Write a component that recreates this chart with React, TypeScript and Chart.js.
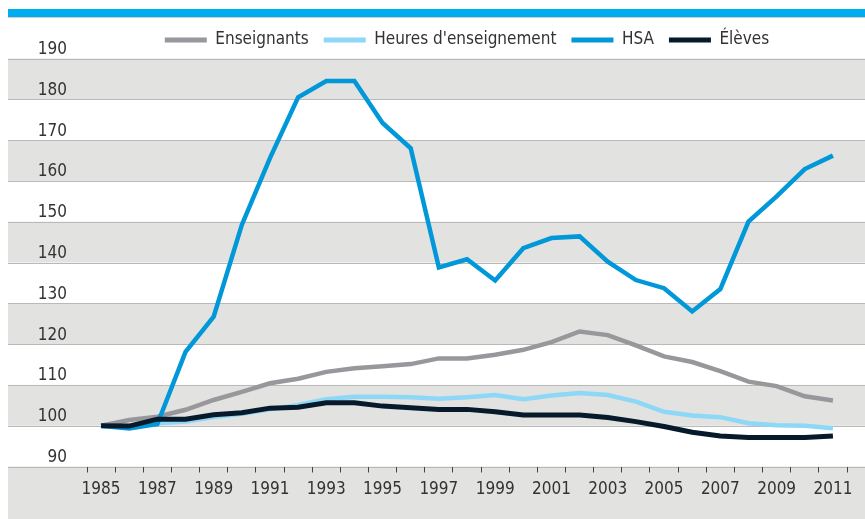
import React, { useEffect, useRef } from "react";
import { Chart, registerables } from "chart.js";

Chart.register(...registerables);

const years = ["1985","1986","1987","1988","1989","1990","1991","1992","1993","1994","1995","1996","1997","1998","1999","2000","2001","2002","2003","2004","2005","2006","2007","2008","2009","2010","2011"];

const enseignants = [100, 101.4, 102.2, 103.9, 106.3, 108.3, 110.4, 111.5, 113.2, 114.1, 114.6, 115.1, 116.5, 116.5, 117.4, 118.6, 120.5, 123.1, 122.2, 119.7, 117.0, 115.6, 113.4, 110.8, 109.7, 107.2, 106.2];
const heures = [100, 99.8, 100.6, 101.0, 102.1, 102.9, 104.0, 105.1, 106.5, 107.1, 107.1, 107.0, 106.6, 107.0, 107.5, 106.5, 107.4, 108.0, 107.5, 105.9, 103.4, 102.5, 102.1, 100.6, 100.1, 100.0, 99.4];
const hsa = [100, 99.3, 100.4, 118.1, 126.7, 149.2, 165.6, 180.5, 184.5, 184.5, 174.2, 168.0, 138.8, 140.8, 135.6, 143.5, 146.0, 146.4, 140.2, 135.7, 133.7, 128.0, 133.5, 150.0, 156.2, 162.9, 166.2];
const eleves = [100, 99.9, 101.6, 101.6, 102.7, 103.2, 104.3, 104.5, 105.6, 105.6, 104.8, 104.4, 104.0, 104.0, 103.4, 102.6, 102.6, 102.6, 102.0, 101.0, 99.8, 98.4, 97.5, 97.1, 97.1, 97.1, 97.5];

const yMin = 90;
const yMax = 190;
const yStep = 10;
const bandStarts = [180, 160, 140, 120, 100];

const FONT = "'Liberation Sans Narrow', 'DejaVu Sans Condensed', 'Roboto', sans-serif";
const FS = 17;

const backgroundPlugin = {
  id: "bgBands",
  beforeDraw(chart: any) {
    const { ctx, width, height } = chart;
    const y = chart.scales.y;
    const left = 8;
    ctx.save();
    ctx.fillStyle = "#00aeef";
    ctx.fillRect(left, 9, width - left, 8);
    ctx.fillStyle = "#d0d0d0";
    ctx.fillRect(left, 17, width - left, 1);
    ctx.fillStyle = "#e2e2e1";
    bandStarts.forEach((b) => {
      const t = y.getPixelForValue(b + yStep);
      const btm = y.getPixelForValue(b);
      ctx.fillRect(left, t, width - left, btm - t);
    });
    const base = y.getPixelForValue(yMin);
    ctx.fillRect(left, base, width - left, height - base);
    ctx.strokeStyle = "#b9b9b9";
    ctx.lineWidth = 1.2;
    for (let v = yMin; v <= yMax; v += yStep) {
      const py = Math.round(y.getPixelForValue(v)) + 0.5;
      ctx.beginPath();
      ctx.moveTo(left, py);
      ctx.lineTo(width, py);
      ctx.stroke();
    }
    ctx.restore();
  },
};

export default function App() {
  const ref = useRef<HTMLCanvasElement | null>(null);
  useEffect(() => {
    if (!ref.current) return;
    const mk = (label: string, data: number[], color: string, order: number, bw: number) => ({
      label,
      data,
      borderColor: color,
      backgroundColor: color,
      borderWidth: bw,
      pointRadius: 0,
      tension: 0,
      borderJoinStyle: "miter" as const,
      borderCapStyle: "butt" as const,
      order,
    });
    const chart = new Chart(ref.current, {
      type: "line",
      data: {
        labels: years,
        datasets: [
          mk("Enseignants", enseignants, "#98989c", 3, 4.5),
          mk("Heures d'enseignement", heures, "#8dd7f7", 2, 4.5),
          mk("HSA", hsa, "#0098d8", 1, 4.5),
          mk("Élèves", eleves, "#061a2b", 0, 5),
        ],
      },
      options: {
        responsive: false,
        animation: false,
        devicePixelRatio: 1,
        layout: { padding: { top: 16.5, right: 18, bottom: 0, left: 0 } },
        plugins: {
          tooltip: { enabled: false },
          legend: {
            position: "top",
            fullSize: false,
            labels: {
              boxWidth: 42,
              boxHeight: 5,
              padding: 15,
              color: "#333333",
              font: { family: FONT, size: FS },
              generateLabels(chart: any) {
                return chart.data.datasets.map((ds: any, i: number) => ({
                  text: ds.label,
                  fillStyle: ds.borderColor,
                  strokeStyle: ds.borderColor,
                  lineWidth: 0,
                  hidden: false,
                  datasetIndex: i,
                  fontColor: "#333333",
                }));
              },
            },
          },
        },
        scales: {
          x: {
            type: "category",
            offset: true,
            border: { display: false },
            grid: {
              offset: true,
              drawOnChartArea: false,
              drawTicks: true,
              tickLength: 6,
              color: "#444444",
            },
            ticks: {
              autoSkip: false,
              maxRotation: 0,
              minRotation: 0,
              padding: 7,
              color: "#333333",
              font: { family: FONT, size: FS },
              callback: (_v: any, i: number) => (i % 2 === 0 ? years[i] : ""),
            },
            afterFit: (s: any) => {
              s.height = 52.5;
            },
          },
          y: {
            min: yMin,
            max: yMax,
            border: { display: false },
            grid: { display: false, drawTicks: false },
            ticks: {
              stepSize: yStep,
              padding: 20,
              labelOffset: -9,
              color: "#333333",
              font: { family: FONT, size: FS },
            },
            afterFit: (s: any) => {
              s.width = 87;
            },
          },
        },
      },
      plugins: [backgroundPlugin],
    });
    return () => chart.destroy();
  }, []);
  return (
    <div style={{ position: "absolute", left: 0, top: 0, width: 865, height: 519, background: "#ffffff" }}>
      <canvas ref={ref} width={865} height={519} style={{ display: "block", width: 865, height: 519 }} />
    </div>
  );
}
